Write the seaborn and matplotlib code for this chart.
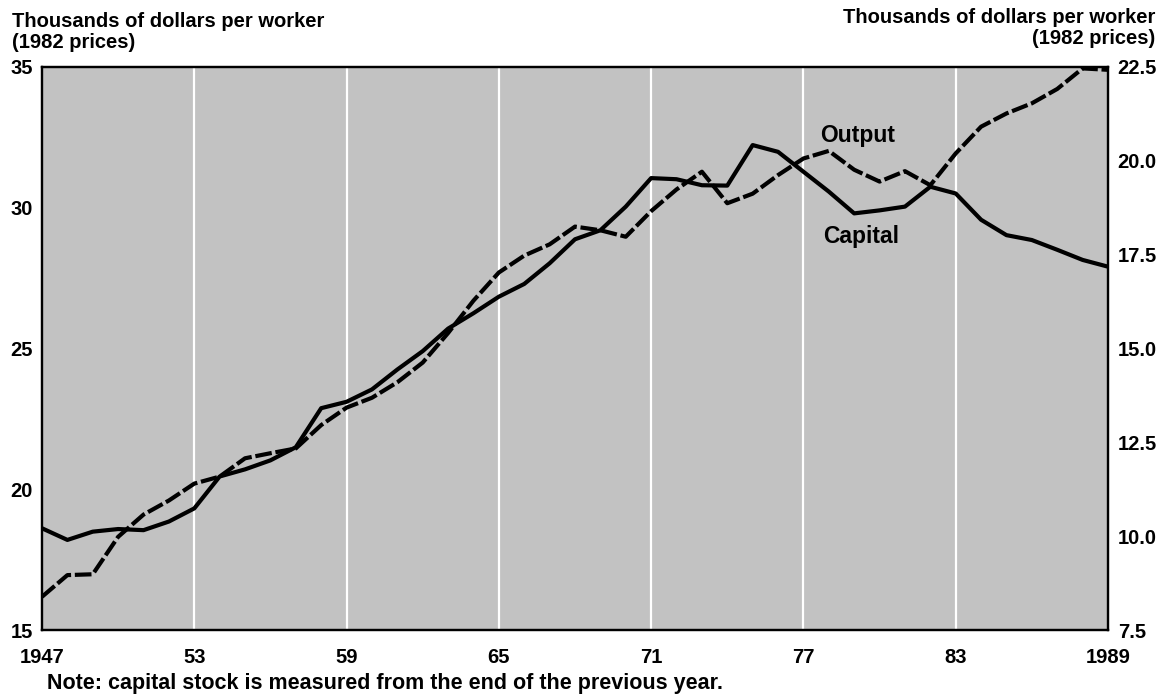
import pandas as pd
import seaborn as sns
import matplotlib.pyplot as plt

years = list(range(1947, 1990))

# output per worker, left axis (thousands of 1982 dollars)
output = [16.18, 16.95, 16.98, 18.31, 19.10, 19.60, 20.20, 20.45, 21.10, 21.28,
          21.45, 22.28, 22.90, 23.25, 23.80, 24.50, 25.55, 26.70, 27.70, 28.30,
          28.70, 29.33, 29.20, 28.97, 29.88, 30.65, 31.28, 30.16, 30.50, 31.16,
          31.75, 32.02, 31.35, 30.93, 31.30, 30.80, 31.93, 32.88, 33.35, 33.71,
          34.22, 34.95, 34.90]

# capital per worker, right axis
capital = [10.21, 9.90, 10.12, 10.19, 10.16, 10.39, 10.74, 11.59, 11.78, 12.02,
           12.37, 13.41, 13.58, 13.91, 14.44, 14.93, 15.53, 15.94, 16.38, 16.72,
           17.27, 17.91, 18.15, 18.78, 19.54, 19.51, 19.35, 19.34, 20.42, 20.24,
           19.71, 19.18, 18.60, 18.68, 18.78, 19.31, 19.13, 18.43, 18.02, 17.89,
           17.63, 17.36, 17.18]

xticks = [1947, 1953, 1959, 1965, 1971, 1977, 1983, 1989]
xlabels = ["1947", "53", "59", "65", "71", "77", "83", "1989"]
left_ticks = [15, 20, 25, 30, 35]
right_ticks = [7.5, 10.0, 12.5, 15.0, 17.5, 20.0, 22.5]

df = pd.DataFrame({"year": years, "output": output, "capital": capital})

sns.set_style("white")
plt.rcParams["font.family"] = ["Liberation Sans", "DejaVu Sans"]
plt.rcParams["font.weight"] = "bold"
plt.rcParams["text.color"] = "black"
plt.rcParams["xtick.color"] = "black"
plt.rcParams["ytick.color"] = "black"

W, H = 1168, 698
fig = plt.figure(figsize=(W / 100, H / 100), dpi=100)
ax = fig.add_axes([42 / W, 1 - 630 / H, (1108 - 42) / W, (630 - 67) / H])
ax.set_facecolor("#c2c2c2")
ax2 = ax.twinx()

sns.lineplot(data=df, x="year", y="output", ax=ax, color="black",
             linewidth=3.0, linestyle=(0, (4, 0.9)))
sns.lineplot(data=df, x="year", y="capital", ax=ax2, color="black",
             linewidth=3.0)

ax.set_xlim(1947, 1989)
ax.set_ylim(15, 35)
ax2.set_ylim(7.5, 22.5)

ax.set_xticks(xticks)
ax.set_xticklabels(xlabels)
ax.set_yticks(left_ticks)
ax.set_yticklabels([str(t) for t in left_ticks])
ax2.set_yticks(right_ticks)
ax2.set_yticklabels([f"{t:.1f}" for t in right_ticks])

ax.grid(axis="x", color="white", linewidth=1.6)
ax.grid(axis="y", visible=False)
ax.set_axisbelow(True)
ax2.grid(False)

ax.set_xlabel("")
ax.set_ylabel("")
ax2.set_ylabel("")

ax.tick_params(axis="x", length=0, pad=13, labelsize=14.5, labelcolor="black")
ax.tick_params(axis="y", length=0, pad=6.5, labelsize=14.5, labelcolor="black")
ax2.tick_params(axis="y", length=0, pad=7, labelsize=14.5, labelcolor="black")

for a in (ax, ax2):
    for s in a.spines.values():
        s.set_visible(True)
        s.set_color("black")
        s.set_linewidth(1.6)

ax.text(1977.65, 32.35, "Output", fontsize=16.5, fontweight="bold",
        ha="left", va="baseline", color="black")
ax.text(1977.77, 28.75, "Capital", fontsize=16.5, fontweight="bold",
        ha="left", va="baseline", color="black")

fig.text(12 / W, 1 - 27 / H, "Thousands of dollars per worker",
         fontsize=14.5, fontweight="bold", ha="left", va="baseline")
fig.text(12 / W, 1 - 48 / H, "(1982 prices)",
         fontsize=14.5, fontweight="bold", ha="left", va="baseline")
fig.text(1155 / W, 1 - 23 / H, "Thousands of dollars per worker",
         fontsize=14.5, fontweight="bold", ha="right", va="baseline")
fig.text(1155 / W, 1 - 44 / H, "(1982 prices)",
         fontsize=14.5, fontweight="bold", ha="right", va="baseline")
fig.text(47 / W, 1 - 689 / H,
         "Note: capital stock is measured from the end of the previous year.",
         fontsize=15.5, fontweight="bold", ha="left", va="baseline")

fig.savefig("out.png", dpi=100)
